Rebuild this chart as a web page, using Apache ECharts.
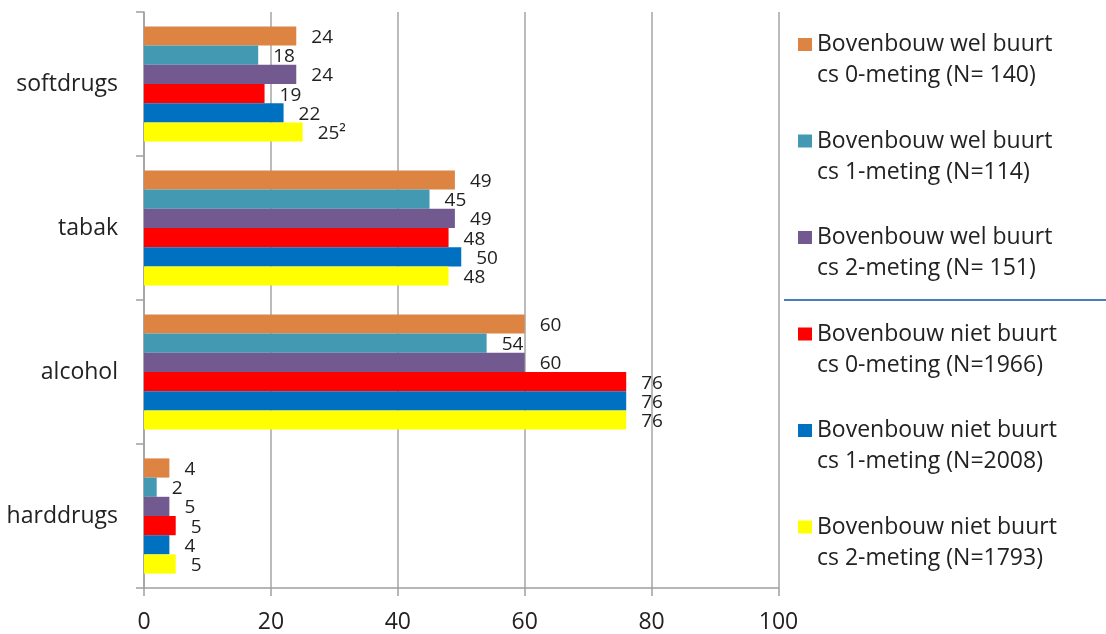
<!DOCTYPE html>
<html><head><meta charset="utf-8">
<script src="https://cdn.jsdelivr.net/npm/echarts@6/dist/echarts.min.js"></script>
<style>html,body{margin:0;padding:0;background:#fff}#c{width:1106px;height:634px}</style>
</head><body><div id="c"></div>
<script>
const categories = ['softdrugs', 'tabak', 'alcohol', 'harddrugs'];
const seriesNames = [
  'Bovenbouw wel buurt\ncs 0-meting (N= 140)',
  'Bovenbouw wel buurt\ncs 1-meting (N=114)',
  'Bovenbouw wel buurt\ncs 2-meting (N= 151)',
  'Bovenbouw niet buurt\ncs 0-meting (N=1966)',
  'Bovenbouw niet buurt\ncs 1-meting (N=2008)',
  'Bovenbouw niet buurt\ncs 2-meting (N=1793)'
];
const colors = ['#DD8442', '#4399B1', '#72598F', '#FF0000', '#0070C0', '#FFFF00'];
// values per series, in category order (softdrugs, tabak, alcohol, harddrugs)
const wel0 = [24, 49, 60, 4];
const wel1 = [18, 45, 54, 2];
const wel2 = [24, 49, 60, 4];
const niet0 = [19, 48, 76, 5];
const niet1 = [22, 50, 76, 4];
const niet2 = [25, 48, 76, 5];
// data labels as printed
const wel0Labels = ['24', '49', '60', '4'];
const wel1Labels = ['18', '45', '54', '2'];
const wel2Labels = ['24', '49', '60', '5'];
const niet0Labels = ['19', '48', '76', '5'];
const niet1Labels = ['22', '50', '76', '4'];
const niet2Labels = ['25²', '48', '76', '5'];
const xTicks = [0, 20, 40, 60, 80, 100];

const allValues = [wel0, wel1, wel2, niet0, niet1, niet2];
const allLabels = [wel0Labels, wel1Labels, wel2Labels, niet0Labels, niet1Labels, niet2Labels];

const FONT = 'Open Sans';
const chart = echarts.init(document.getElementById('c'), null, {renderer: 'canvas'});
const option = {
  animation: false,
  backgroundColor: '#fff',
  textStyle: {fontFamily: FONT},
  grid: {left: 144, right: 327.5, top: 12, bottom: 44, containLabel: false},
  xAxis: {
    type: 'value', min: xTicks[0], max: xTicks[xTicks.length - 1], interval: 20,
    axisLine: {show: true, lineStyle: {color: '#a0a0a0', width: 1.5}},
    axisTick: {show: true, length: 8, lineStyle: {color: '#a0a0a0', width: 1.5}},
    splitLine: {show: true, lineStyle: {color: '#a5a5a5', width: 1.5}},
    axisLabel: {fontSize: 23, color: '#222', margin: 23, fontFamily: FONT}
  },
  yAxis: {
    type: 'category', data: categories, inverse: true,
    axisLine: {show: true, lineStyle: {color: '#a0a0a0', width: 1.5}},
    axisTick: {show: true, length: 8, lineStyle: {color: '#a0a0a0', width: 1.5}},
    axisLabel: {fontSize: 23, color: '#222', margin: 26, fontFamily: FONT, padding: [5, 0, 0, 0]}
  },
  legend: {
    orient: 'vertical', left: 798, top: 29, padding: 0,
    itemWidth: 14, itemHeight: 44, itemGap: 34.5,
    icon: 'path://M0,0H14V13H0Z M0,44',
    textStyle: {fontSize: 23, lineHeight: 31, color: '#222', fontFamily: FONT},
    data: seriesNames
  },
  graphic: [{
    type: 'line', shape: {x1: 784, y1: 300, x2: 1106, y2: 300},
    style: {stroke: '#4a7ebb', lineWidth: 2}
  }],
  series: seriesNames.map((name, i) => ({
    name, type: 'bar', barGap: '0%', barCategoryGap: '20%',
    itemStyle: {color: colors[i]},
    label: {
      show: true, position: 'right', distance: 15, fontSize: 19, color: '#222', fontFamily: FONT,
      offset: [0, 1.5],
      formatter: (p) => allLabels[i][p.dataIndex]
    },
    data: allValues[i]
  }))
};
chart.setOption(option);
</script></body></html>
